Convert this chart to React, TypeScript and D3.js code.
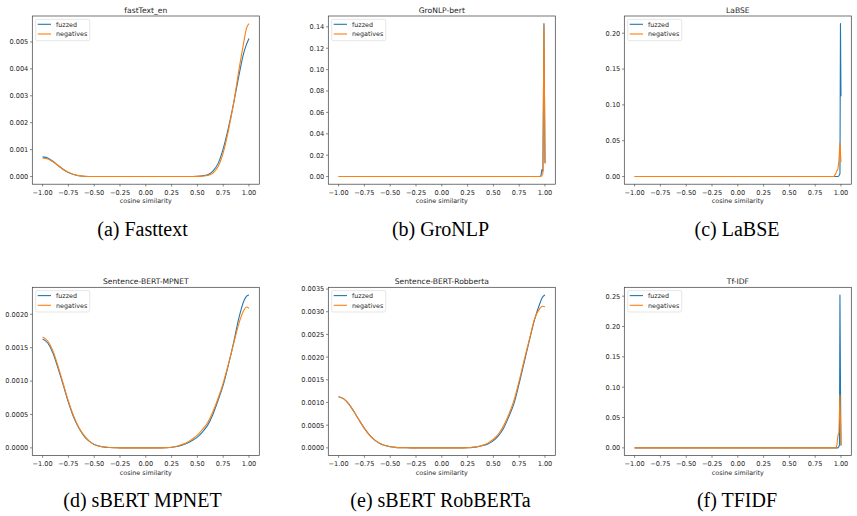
import React from "react";
import * as d3 from "d3";

// ---------- data ----------
const X_TICKS = [-1, -0.75, -0.5, -0.25, 0, 0.25, 0.5, 0.75, 1];
const SERIES_NAMES = ["fuzzed", "negatives"];
const TITLES = ["fastText_en", "GroNLP-bert", "LaBSE", "Sentence-BERT-MPNET", "Sentence-BERT-Robberta", "Tf-IDF"];
const CAPTIONS = ["(a) Fasttext", "(b) GroNLP", "(c) LaBSE", "(d) sBERT MPNET", "(e) sBERT RobBERTa", "(f) TFIDF"];
const X_LABEL = "cosine similarity";

const Y_TICKS_A = [0, 0.001, 0.002, 0.003, 0.004, 0.005];
const Y_TICKS_B = [0, 0.02, 0.04, 0.06, 0.08, 0.1, 0.12, 0.14];
const Y_TICKS_C = [0, 0.05, 0.1, 0.15, 0.2];
const Y_TICKS_D = [0, 0.0005, 0.001, 0.0015, 0.002];
const Y_TICKS_E = [0, 0.0005, 0.001, 0.0015, 0.002, 0.0025, 0.003, 0.0035];
const Y_TICKS_F = [0, 0.05, 0.1, 0.15, 0.2, 0.25];

// [cosine similarity, density]
const fasttextFuzzed: [number, number][] = [
  [-1, 0.00073], [-0.95, 0.000685], [-0.9, 0.000566], [-0.85, 0.000411], [-0.8, 0.000263],
  [-0.75, 0.000148], [-0.7, 0.000074], [-0.65, 0.000032], [-0.6, 0.000012], [-0.55, 0.000004],
  [-0.5, 0.000001], [-0.45, 0], [0.4, 0], [0.45, 0.000004], [0.5, 0.000012], [0.55, 0.00003],
  [0.6, 0.00007], [0.65, 0.0002], [0.7, 0.00048], [0.75, 0.00103], [0.8, 0.0018], [0.85, 0.0027],
  [0.9, 0.0037], [0.95, 0.0046], [0.975, 0.0049], [1.0, 0.00513],
];
const fasttextNegatives: [number, number][] = [
  [-1, 0.00068], [-0.95, 0.00065], [-0.9, 0.00055], [-0.85, 0.00041], [-0.8, 0.00027],
  [-0.75, 0.000155], [-0.7, 0.00008], [-0.65, 0.000035], [-0.6, 0.000013], [-0.55, 0.000004],
  [-0.5, 0.000001], [-0.45, 0], [0.4, 0], [0.45, 0.000002], [0.5, 0.000006], [0.55, 0.000015],
  [0.6, 0.00004], [0.65, 0.00013], [0.7, 0.00036], [0.75, 0.00088], [0.8, 0.0017], [0.85, 0.0027],
  [0.9, 0.0039], [0.95, 0.005], [0.975, 0.0055], [1.0, 0.00568],
];
const gronlpFuzzed: [number, number][] = [
  [-1, 0], [0.95, 0], [0.96, 0.0005], [0.97, 0.0065], [0.98, 0.005], [0.99, 0.143], [1.0, 0.013],
];
const gronlpNegatives: [number, number][] = [
  [-1, 0], [0.96, 0], [0.97, 0.001], [0.98, 0.003], [0.99, 0.1415], [1.0, 0.012],
];
const labseFuzzed: [number, number][] = [
  [-1, 0], [0.97, 0], [0.98, 0.001], [0.99, 0.004], [0.995, 0.2134], [1.0, 0.112],
];
const labseNegatives: [number, number][] = [
  [-1, 0], [0.93, 0], [0.95, 0.004], [0.96, 0.008], [0.97, 0.01], [0.98, 0.022], [0.99, 0.047], [1.0, 0.02],
];
const mpnetFuzzed: [number, number][] = [
  [-1, 0.00163], [-0.95, 0.00157], [-0.9, 0.00142], [-0.85, 0.00119], [-0.8, 0.00094],
  [-0.75, 0.00068], [-0.7, 0.00046], [-0.65, 0.0003], [-0.6, 0.00018], [-0.55, 0.0001],
  [-0.5, 0.00005], [-0.45, 0.000025], [-0.4, 0.000011], [-0.35, 0.000005], [-0.3, 0.000002],
  [-0.25, 0], [0.15, 0], [0.2, 0.000003], [0.25, 0.000008], [0.3, 0.00002], [0.35, 0.00004],
  [0.4, 0.00007], [0.45, 0.00011], [0.5, 0.00016], [0.55, 0.00024], [0.6, 0.00034],
  [0.65, 0.0005], [0.7, 0.00071], [0.75, 0.00094], [0.8, 0.00124], [0.85, 0.00157],
  [0.9, 0.00193], [0.95, 0.0022], [0.975, 0.00227], [1.0, 0.00229],
];
const mpnetNegatives: [number, number][] = [
  [-1, 0.00166], [-0.95, 0.0016], [-0.9, 0.00145], [-0.85, 0.00122], [-0.8, 0.00096],
  [-0.75, 0.0007], [-0.7, 0.00048], [-0.65, 0.00031], [-0.6, 0.00019], [-0.55, 0.000105],
  [-0.5, 0.000052], [-0.45, 0.000026], [-0.4, 0.000012], [-0.35, 0.000005], [-0.3, 0.000002],
  [-0.25, 0], [0.15, 0], [0.2, 0.000004], [0.25, 0.00001], [0.3, 0.000025], [0.35, 0.00005],
  [0.4, 0.00008], [0.45, 0.00013], [0.5, 0.00019], [0.55, 0.00028], [0.6, 0.00038],
  [0.65, 0.00054], [0.7, 0.00074], [0.75, 0.00097], [0.8, 0.00125], [0.85, 0.00155],
  [0.9, 0.00185], [0.95, 0.00206], [0.975, 0.00211], [1.0, 0.00209],
];
const robbertaFuzzed: [number, number][] = [
  [-1, 0.001125], [-0.95, 0.00108], [-0.9, 0.000964], [-0.85, 0.000795], [-0.8, 0.000607],
  [-0.75, 0.000429], [-0.7, 0.00028], [-0.65, 0.00017], [-0.6, 0.000095], [-0.55, 0.00005],
  [-0.5, 0.000024], [-0.45, 0.00001], [-0.4, 0.000004], [-0.35, 0.0000015], [-0.3, 0],
  [0.2, 0], [0.25, 0.000003], [0.3, 0.00001], [0.35, 0.000025], [0.4, 0.00005], [0.45, 0.00009],
  [0.5, 0.00016], [0.55, 0.00027], [0.6, 0.00044], [0.65, 0.00069], [0.7, 0.00098],
  [0.75, 0.00142], [0.8, 0.0019], [0.85, 0.00238], [0.9, 0.00283], [0.95, 0.00318],
  [0.975, 0.00332], [1.0, 0.00337],
];
const robbertaNegatives: [number, number][] = [
  [-1, 0.001125], [-0.95, 0.00108], [-0.9, 0.000964], [-0.85, 0.000795], [-0.8, 0.000607],
  [-0.75, 0.000429], [-0.7, 0.00028], [-0.65, 0.00017], [-0.6, 0.000095], [-0.55, 0.00005],
  [-0.5, 0.000024], [-0.45, 0.00001], [-0.4, 0.000004], [-0.35, 0.0000015], [-0.3, 0],
  [0.2, 0], [0.25, 0.000004], [0.3, 0.000013], [0.35, 0.00003], [0.4, 0.00006], [0.45, 0.00011],
  [0.5, 0.00019], [0.55, 0.00031], [0.6, 0.00049], [0.65, 0.00074], [0.7, 0.00105],
  [0.75, 0.00148], [0.8, 0.00195], [0.85, 0.0024], [0.9, 0.00285], [0.95, 0.00307],
  [0.975, 0.00312], [1.0, 0.00311],
];
const tfidfFuzzed: [number, number][] = [
  [-1, 0], [0.97, 0], [0.98, 0.002], [0.985, 0.005], [0.99, 0.252], [0.995, 0.103], [1.0, 0.004],
];
const tfidfNegatives: [number, number][] = [
  [-1, 0], [0.95, 0], [0.96, 0.004], [0.97, 0.02], [0.98, 0.025], [0.99, 0.087], [1.0, 0.004],
];

// ---------- layout ----------
const COLORS = ["#1f77b4", "#ff7f0e"];
const COL_LEFT = [32.3, 328.3, 624.3];
const ROW_TOP = [16, 287.3];
const AX_W = 227;
const AX_H = 168.2;
const CAPTION_X = [142.5, 440.5, 737];
const CAPTION_Y = [235.5, 507];
const SANS = "DejaVu Sans, sans-serif";
const TEXT = "#262626";

type Panel = {
  title: string;
  caption: string;
  yTicks: number[];
  fmt: string;
  series: [number, number][][];
  smooth: boolean;
};

const PANELS: Panel[] = [
  { title: TITLES[0], caption: CAPTIONS[0], yTicks: Y_TICKS_A, fmt: ".3f", series: [fasttextFuzzed, fasttextNegatives], smooth: true },
  { title: TITLES[1], caption: CAPTIONS[1], yTicks: Y_TICKS_B, fmt: ".2f", series: [gronlpFuzzed, gronlpNegatives], smooth: false },
  { title: TITLES[2], caption: CAPTIONS[2], yTicks: Y_TICKS_C, fmt: ".2f", series: [labseFuzzed, labseNegatives], smooth: false },
  { title: TITLES[3], caption: CAPTIONS[3], yTicks: Y_TICKS_D, fmt: ".4f", series: [mpnetFuzzed, mpnetNegatives], smooth: true },
  { title: TITLES[4], caption: CAPTIONS[4], yTicks: Y_TICKS_E, fmt: ".4f", series: [robbertaFuzzed, robbertaNegatives], smooth: true },
  { title: TITLES[5], caption: CAPTIONS[5], yTicks: Y_TICKS_F, fmt: ".2f", series: [tfidfFuzzed, tfidfNegatives], smooth: false },
];

function PanelView({ p, idx }: { p: Panel; idx: number }) {
  const col = idx % 3;
  const row = Math.floor(idx / 3);
  const left = COL_LEFT[col];
  const top = ROW_TOP[row];
  const all = p.series.flat();
  const yMin = d3.min(all, (d) => d[1]) as number;
  const yMax = d3.max(all, (d) => d[1]) as number;
  const yPad = (yMax - yMin) * 0.05;
  const x = d3.scaleLinear().domain([-1.1, 1.1]).range([left, left + AX_W]);
  const y = d3.scaleLinear().domain([yMin - yPad, yMax + yPad]).range([top + AX_H, top]);
  const line = d3
    .line<[number, number]>()
    .x((d) => x(d[0]))
    .y((d) => y(d[1]))
    .curve(p.smooth ? d3.curveMonotoneX : d3.curveLinear);
  const fmtX = d3.format(".2f");
  const fmtY = d3.format(p.fmt);
  const bottom = top + AX_H;
  const tickLen = 2.3;
  const clipId = `clip${idx}`;
  return (
    <g>
      <defs>
        <clipPath id={clipId}>
          <rect x={left} y={top} width={AX_W} height={AX_H} />
        </clipPath>
      </defs>
      <g clipPath={`url(#${clipId})`}>
        {p.series.map((s, i) => (
          <path key={i} d={line(s) || ""} fill="none" stroke={COLORS[i]} strokeWidth={1.1} strokeLinejoin="round" />
        ))}
      </g>
      <rect x={left} y={top} width={AX_W} height={AX_H} fill="none" stroke="#3a3a3a" strokeWidth={0.7} />
      {X_TICKS.map((t) => (
        <g key={`x${t}`}>
          <line x1={x(t)} x2={x(t)} y1={bottom} y2={bottom + tickLen} stroke="#3a3a3a" strokeWidth={0.6} />
          <text x={x(t)} y={bottom + 10.3} textAnchor="middle" fontSize={6.6} fontFamily={SANS} fill={TEXT}>
            {fmtX(t)}
          </text>
        </g>
      ))}
      {p.yTicks.map((t) => (
        <g key={`y${t}`}>
          <line x1={left - tickLen} x2={left} y1={y(t)} y2={y(t)} stroke="#3a3a3a" strokeWidth={0.6} />
          <text x={left - 4} y={y(t) + 2.4} textAnchor="end" fontSize={6.6} fontFamily={SANS} fill={TEXT}>
            {fmtY(t)}
          </text>
        </g>
      ))}
      <text x={left + AX_W / 2} y={top - 3.4} textAnchor="middle" fontSize={7.6} fontFamily={SANS} fill={TEXT}>
        {p.title}
      </text>
      <text x={left + AX_W / 2} y={bottom + 19} textAnchor="middle" fontSize={6.4} fontFamily={SANS} fill={TEXT}>
        {X_LABEL}
      </text>
      {/* legend */}
      <rect x={left + 3.4} y={top + 3.3} width={54} height={21.4} rx={1.5} fill="white" fillOpacity={0.8} stroke="#d5d5d5" strokeWidth={0.6} />
      {SERIES_NAMES.map((n, i) => (
        <g key={n}>
          <line x1={left + 5.4} x2={left + 18.7} y1={top + 8.3 + i * 9.7} y2={top + 8.3 + i * 9.7} stroke={COLORS[i]} strokeWidth={1.1} />
          <text x={left + 23.7} y={top + 10.6 + i * 9.7} fontSize={6.4} fontFamily={SANS} fill={TEXT}>
            {n}
          </text>
        </g>
      ))}
      <text x={CAPTION_X[col]} y={CAPTION_Y[row]} textAnchor="middle" fontSize={20} fontFamily="Liberation Serif, Times New Roman, serif" fill="#000">
        {p.caption}
      </text>
    </g>
  );
}

export default function App() {
  return (
    <svg width={857} height={516} viewBox="0 0 857 516" style={{ position: "absolute", left: 0, top: 0, background: "white", display: "block" }}>
      <rect x={0} y={0} width={857} height={516} fill="white" />
      {PANELS.map((p, i) => (
        <PanelView key={i} p={p} idx={i} />
      ))}
    </svg>
  );
}
